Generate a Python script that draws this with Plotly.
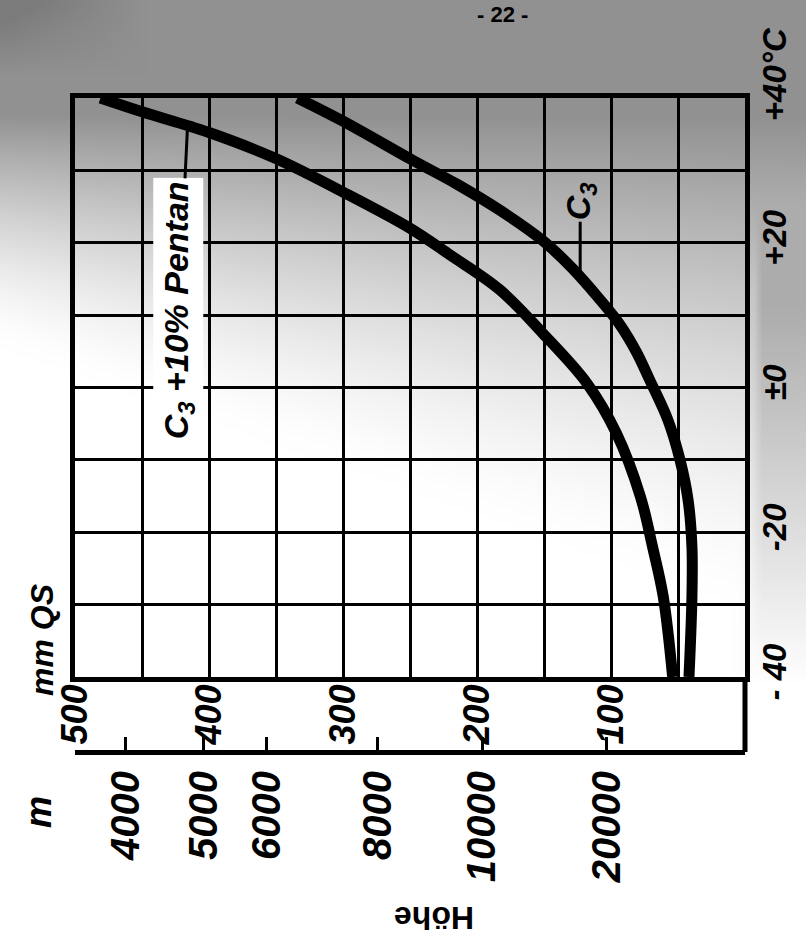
import base64
import struct
import zlib

import numpy as np
import plotly.graph_objects as go

# ---------------- data ----------------
# C3 curve: temperature (deg C) vs pressure (mm QS)
temp_c3 = [40, 36.8, 31.4, 28.1, 24.5, 20.3, 16.5, 12.1, 8.6, 4.9, 1.0, -4.5, -10.0, -15.5, -22.0, -28.9, -40]
pres_c3 = [334, 300, 248, 215, 183, 151, 129, 108, 93, 81, 71, 57.5, 48.5, 42.5, 39.6, 39.6, 41.8]

# C3 + 10 % Pentan curve
temp_pentan = [40, 38.1, 35.3, 31.7, 27.0, 22.0, 18.3, 13.5, 7.5, 0.6, -6.3, -15.1, -22.0, -28.9, -40]
pres_pentan = [481, 450, 401, 351, 300, 250, 220, 183, 151, 118, 96, 78, 69, 61, 54]

# pressure axis (labelled ticks and in-between grid lines)
pres_tick_vals = [500, 400, 300, 200, 100]
pres_tick_text = ["500", "400", "300", "200", "100"]
pres_minor_vals = [450, 350, 250, 150, 50]

# temperature axis
temp_tick_vals = [-40, -20, 0, 20, 40]
temp_tick_text = ["- 40", "-20", "±0", "+20", "&nbsp;&nbsp;&nbsp;&nbsp;+40°C"]
temp_minor_vals = [-30, -10, 10, 30]

# altitude scale (Höhe) placed at the corresponding pressures
height_labels = ["4000", "5000", "6000", "8000", "10000", "20000"]
height_pres = [462, 404, 357, 274, 196, 103]

# label anchor pressures for the two leader lines
label_pentan_p = 416
label_c3_p = 123

# ---------------- figure ----------------
W, H = 806, 951
L, R, T, B = 75, 745, 98, 677  # plot frame in pixels


def fx(x):
    return x / W


def fy(y):
    return 1 - y / H


FONT = "Liberation Sans"
bold_it = dict(family=FONT, size=34, color="black", weight="bold", style="italic")


# ---- smooth paper tone of the scan, as a small grey PNG stretched over the page ----
def paper_tone_png(step=8):
    nx, ny = W // step + 1, H // step + 1
    xs = np.arange(nx) * step
    ys = np.arange(ny) * step
    X, Y = np.meshgrid(xs, ys)
    span = 230 + 0.35 * X
    d = np.clip(1 - (Y - 110) / span, 0, 1) ** 1.5
    d = d + 0.25 * np.clip(1 - X / 140, 0, 1) * np.clip(1 - Y / 70, 0, 1)
    d_right = 0.75 * np.clip((X - 735) / 25, 0, 1) * np.clip(1 - (Y - 300) / 380, 0, 1)
    d = np.clip(np.maximum(d, d_right), 0, 1.2)
    gray = np.clip(255 - d * 110, 0, 255).astype(np.uint8)
    raw = b"".join(b"\x00" + gray[r].tobytes() for r in range(ny))

    def chunk(tag, data):
        c = struct.pack(">I", len(data)) + tag + data
        return c + struct.pack(">I", zlib.crc32(tag + data) & 0xFFFFFFFF)

    png = b"\x89PNG\r\n\x1a\n"
    png += chunk(b"IHDR", struct.pack(">IIBBBBB", nx, ny, 8, 0, 0, 0, 0))
    png += chunk(b"IDAT", zlib.compress(raw, 9))
    png += chunk(b"IEND", b"")
    return "data:image/png;base64," + base64.b64encode(png).decode()


fig = go.Figure()

fig.add_trace(go.Scatter(x=pres_pentan, y=temp_pentan, mode="lines",
                         line=dict(color="black", width=11, shape="spline", smoothing=1.0),
                         showlegend=False, hoverinfo="skip"))
fig.add_trace(go.Scatter(x=pres_c3, y=temp_c3, mode="lines",
                         line=dict(color="black", width=11, shape="spline", smoothing=1.0),
                         showlegend=False, hoverinfo="skip"))
# invisible trace carrying the altitude axis
fig.add_trace(go.Scatter(x=height_pres, y=[0] * len(height_pres), xaxis="x2", yaxis="y",
                         mode="markers", marker=dict(opacity=0), showlegend=False,
                         hoverinfo="skip"))

grid_minor = dict(showgrid=True, gridcolor="black", gridwidth=3, ticks="")

fig.update_layout(
    width=W, height=H,
    margin=dict(l=0, r=0, t=0, b=0, autoexpand=False),
    paper_bgcolor="white",
    plot_bgcolor="rgba(0,0,0,0)",
    font=dict(family=FONT, color="black"),
    xaxis=dict(
        domain=[fx(L), fx(R)], range=[500, 0], tickvals=pres_tick_vals, ticktext=pres_tick_text,
        minor=dict(grid_minor, tickmode="array", tickvals=pres_minor_vals),
        showgrid=True, gridcolor="black", gridwidth=3, zeroline=False, automargin=False,
        showline=True, linecolor="black", linewidth=5, mirror=True,
        ticks="", tickangle=-90, tickfont=dict(bold_it, size=36), ticklabelstandoff=-12,
    ),
    yaxis=dict(
        domain=[fy(B), fy(T)], range=[-40, 40], tickvals=temp_tick_vals, ticktext=temp_tick_text,
        minor=dict(grid_minor, tickmode="array", tickvals=temp_minor_vals),
        side="right", showgrid=True, gridcolor="black", gridwidth=3, zeroline=False,
        automargin=False,
        showline=True, linecolor="black", linewidth=5, mirror=True,
        ticks="", tickangle=-90, tickfont=dict(bold_it, size=33), ticklabelstandoff=-4,
    ),
    xaxis2=dict(
        overlaying="x", anchor="free", position=fy(752), side="bottom", automargin=False,
        range=[500, 0], tickvals=height_pres, ticktext=height_labels,
        showgrid=False, zeroline=False, showline=True, linecolor="black", linewidth=5,
        ticks="inside", ticklen=13, tickwidth=3, tickcolor="black",
        tickangle=-90, tickfont=dict(bold_it, size=40), ticklabelstandoff=0,
    ),
    images=[dict(source=paper_tone_png(), xref="paper", yref="paper", x=0, y=1,
                 sizex=1, sizey=1, sizing="stretch", xanchor="left", yanchor="top",
                 layer="below")],
)

# right frame continues down to the altitude scale
fig.add_shape(type="line", xref="x domain", yref="paper", x0=1, x1=1,
              y0=fy(752), y1=fy(B), line=dict(color="black", width=5))

# curve labels with leader lines
ip = list(reversed(pres_pentan))
it = list(reversed(temp_pentan))
y_pentan = float(np.interp(label_pentan_p, ip, it))
ip3 = list(reversed(pres_c3[:12]))
it3 = list(reversed(temp_c3[:12]))
y_c3 = float(np.interp(label_c3_p, ip3, it3))

fig.add_annotation(x=label_pentan_p, y=y_pentan, xref="x", yref="y",
                   text="C<sub>3</sub> +10% Pentan", textangle=-90, font=dict(bold_it, size=34),
                   showarrow=True, arrowhead=0, arrowwidth=3, arrowcolor="black",
                   ax=-9, ay=185, bgcolor="white", borderpad=3, standoff=0)
fig.add_annotation(x=label_c3_p, y=y_c3, xref="x", yref="y",
                   text="C<sub>3</sub>", textangle=-90, font=dict(bold_it, size=34),
                   showarrow=True, arrowhead=0, arrowwidth=3, arrowcolor="black",
                   ax=0, ay=-76, standoff=0)


# other texts
def note(x, y, text, angle, font):
    fig.add_annotation(x=fx(x), y=fy(y), xref="paper", yref="paper", text=text,
                       textangle=angle, showarrow=False, xanchor="center", yanchor="middle",
                       font=font)


note(42, 640, "mm QS", -90, dict(bold_it, size=32))
note(38, 812, "m", -90, dict(bold_it, size=36))
note(434, 918, "Höhe", 180, dict(family=FONT, size=32, color="black", weight="bold"))
note(503, 14, "- 22 -", 0, dict(family=FONT, size=22, color="black", weight="bold"))

fig.write_html("out.html", config={"displayModeBar": False},
               post_script="document.body.style.margin='0';")
